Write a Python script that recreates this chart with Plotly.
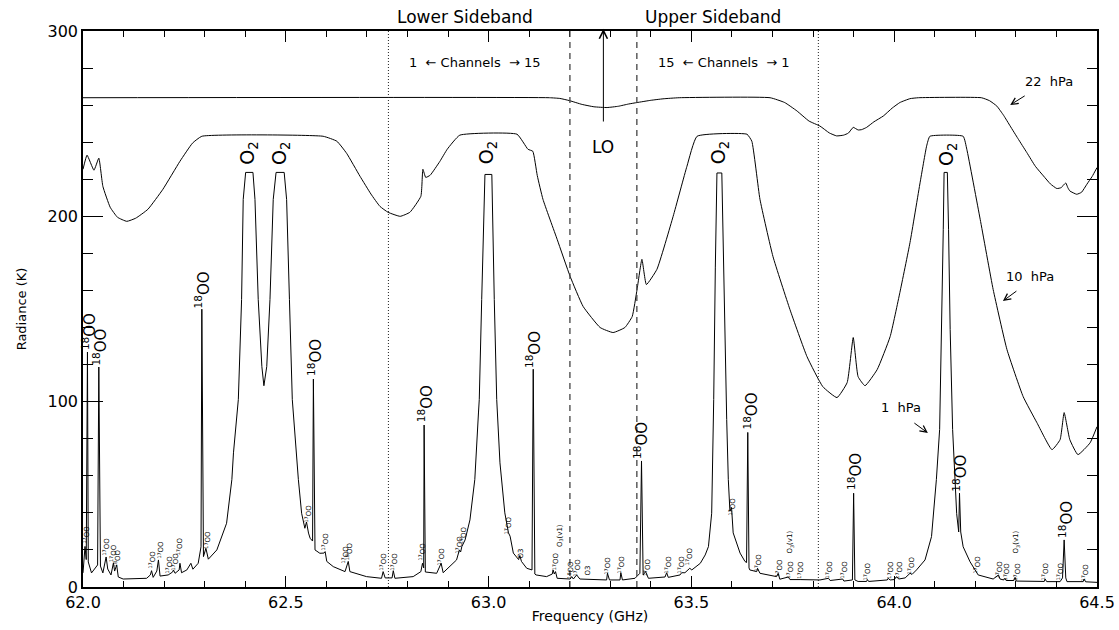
import plotly.graph_objects as go

# ---------------- data ----------------
freq_22 = [62.000, 63.150, 63.176, 63.200, 63.230, 63.260, 63.292, 63.320, 63.345, 63.366,
           63.400, 63.430, 63.470, 63.694, 63.730, 63.760, 63.790, 63.817, 63.840, 63.858,
           63.875, 63.887, 63.899, 63.911, 63.920, 63.932, 63.950, 63.973, 63.995, 64.014,
           64.039, 64.060, 64.215, 64.235, 64.253, 64.270, 64.286, 64.305, 64.327, 64.348,
           64.368, 64.385, 64.401, 64.412, 64.417, 64.423, 64.428, 64.433, 64.450, 64.462,
           64.475, 64.488, 64.500]
rad_22 = [264.0, 264.0, 263.6, 262.4, 260.4, 259.1, 258.7, 259.4, 260.6, 261.4,
          262.6, 263.4, 264.0, 264.0, 261.4, 256.9, 251.4, 248.7, 245.0, 243.4,
          243.8, 244.9, 248.0, 246.6, 246.8, 248.0, 251.0, 254.1, 258.4, 261.4,
          263.5, 264.0, 264.0, 262.4, 259.5, 254.4, 248.7, 242.0, 234.4, 227.0,
          221.8, 217.5, 215.0, 215.5, 216.8, 218.0, 215.5, 213.7, 211.9, 213.0,
          217.3, 221.5, 226.3]

freq_10 = [62.000, 62.010, 62.027, 62.039, 62.049, 62.067, 62.085, 62.108, 62.130, 62.160,
           62.197, 62.239, 62.270, 62.293, 62.592, 62.626, 62.650, 62.683, 62.710, 62.732,
           62.752, 62.782, 62.806, 62.833, 62.838, 62.845, 62.856, 62.880, 62.898, 62.929,
           63.070, 63.097, 63.109, 63.120, 63.134, 63.169, 63.201, 63.233, 63.275, 63.307,
           63.336, 63.354, 63.366, 63.378, 63.389, 63.415, 63.455, 63.489, 63.514, 63.637,
           63.649, 63.669, 63.701, 63.743, 63.785, 63.824, 63.859, 63.884, 63.899, 63.911,
           63.928, 63.958, 63.990, 64.014, 64.039, 64.064, 64.080, 64.088, 64.170, 64.179,
           64.212, 64.244, 64.278, 64.318, 64.352, 64.389, 64.409, 64.419, 64.433, 64.453,
           64.483, 64.500]
rad_10 = [225.4, 233.0, 224.9, 231.4, 216.2, 204.9, 199.5, 197.3, 199.0, 203.8,
          214.6, 229.7, 239.5, 243.2, 243.2, 240.5, 234.0, 221.6, 212.0, 205.4,
          202.2, 200.0, 202.2, 210.8, 225.4, 221.0, 222.2, 229.7, 236.2, 243.8,
          244.3, 236.2, 235.1, 222.0, 209.2, 187.6, 167.6, 151.4, 140.0, 137.3,
          140.0, 145.9, 160.5, 176.8, 163.2, 171.4, 200.0, 227.0, 243.2, 244.3,
          240.5, 209.2, 178.4, 149.7, 124.3, 108.1, 102.2, 110.3, 134.6, 113.5,
          108.6, 117.3, 135.1, 158.9, 185.9, 218.4, 238.0, 243.2, 243.2, 236.2,
          198.4, 160.5, 128.1, 102.7, 88.6, 74.1, 79.5, 94.1, 79.5, 71.4,
          77.8, 86.5]

freq_1 = [62.000, 62.005, 62.008, 62.011, 62.013, 62.021, 62.036, 62.039, 62.043, 62.049,
          62.057, 62.061, 62.069, 62.075, 62.078, 62.083, 62.087, 62.099, 62.157, 62.166,
          62.169, 62.173, 62.182, 62.186, 62.190, 62.210, 62.221, 62.223, 62.227, 62.237,
          62.239, 62.243, 62.256, 62.266, 62.271, 62.284, 62.291, 62.293, 62.297, 62.303,
          62.309, 62.330, 62.354, 62.367, 62.371, 62.383, 62.391, 62.395, 62.401, 62.419,
          62.424, 62.432, 62.441, 62.446, 62.453, 62.461, 62.469, 62.476, 62.496, 62.502,
          62.509, 62.516, 62.531, 62.539, 62.547, 62.551, 62.556, 62.560, 62.566, 62.568,
          62.572, 62.584, 62.594, 62.597, 62.601, 62.617, 62.646, 62.650, 62.654, 62.658,
          62.699, 62.736, 62.740, 62.745, 62.762, 62.765, 62.769, 62.814, 62.833, 62.837,
          62.840, 62.841, 62.844, 62.872, 62.883, 62.888, 62.921, 62.928, 62.931, 62.934,
          62.942, 62.954, 62.966, 62.975, 62.977, 62.983, 62.987, 62.991, 63.008, 63.010,
          63.014, 63.020, 63.028, 63.040, 63.049, 63.053, 63.061, 63.074, 63.077, 63.081,
          63.094, 63.107, 63.110, 63.114, 63.117, 63.143, 63.157, 63.159, 63.162, 63.165,
          63.169, 63.201, 63.205, 63.209, 63.217, 63.225, 63.291, 63.293, 63.298, 63.324,
          63.326, 63.330, 63.361, 63.373, 63.377, 63.381, 63.387, 63.394, 63.435, 63.439,
          63.443, 63.472, 63.476, 63.484, 63.496, 63.501, 63.522, 63.534, 63.542, 63.550,
          63.554, 63.555, 63.559, 63.563, 63.575, 63.579, 63.585, 63.587, 63.591, 63.594,
          63.595, 63.599, 63.603, 63.620, 63.632, 63.636, 63.639, 63.642, 63.644, 63.661,
          63.663, 63.669, 63.710, 63.714, 63.718, 63.739, 63.743, 63.768, 63.817, 63.838,
          63.842, 63.873, 63.876, 63.897, 63.900, 63.903, 63.911, 63.932, 63.934, 63.937,
          63.983, 63.985, 63.990, 64.000, 64.006, 64.011, 64.027, 64.039, 64.044, 64.055,
          64.076, 64.092, 64.104, 64.112, 64.117, 64.121, 64.123, 64.131, 64.134, 64.138,
          64.144, 64.149, 64.154, 64.159, 64.161, 64.164, 64.170, 64.187, 64.199, 64.203,
          64.207, 64.244, 64.257, 64.261, 64.270, 64.273, 64.276, 64.295, 64.298, 64.301,
          64.370, 64.372, 64.376, 64.409, 64.415, 64.419, 64.423, 64.426, 64.466, 64.468,
          64.472, 64.500]
rad_1 = [7.6, 21.9, 14.8, 126.8, 13.5, 7.6, 11.9, 118.7, 11.3, 7.6,
         16.2, 9.7, 6.5, 13.0, 8.6, 11.9, 5.4, 4.3, 4.7, 6.5,
         8.8, 5.2, 8.6, 14.6, 5.9, 6.5, 8.1, 9.2, 7.4, 9.2,
         12.8, 7.7, 9.2, 12.8, 9.6, 12.8, 21.7, 149.9, 16.4, 20.9,
         15.0, 20.0, 34.4, 58.0, 72.4, 101.2, 155.1, 209.1, 223.7, 223.7,
         209.1, 155.1, 118.9, 108.6, 118.9, 155.1, 209.1, 223.7, 223.7, 209.1,
         155.1, 101.2, 58.0, 39.8, 31.7, 35.1, 29.1, 26.3, 24.8, 112.2,
         20.0, 18.2, 18.3, 19.1, 13.8, 11.0, 8.3, 11.9, 13.8, 8.3,
         5.6, 4.7, 8.3, 4.9, 4.9, 8.8, 4.7, 5.6, 8.3, 12.8,
         10.3, 87.4, 8.1, 7.4, 12.8, 7.7, 14.6, 20.0, 18.9, 21.8,
         25.4, 36.2, 58.0, 93.9, 101.2, 155.1, 191.3, 222.6, 222.6, 191.3,
         155.1, 101.2, 67.0, 40.0, 29.2, 27.4, 18.3, 14.8, 17.0, 13.8,
         10.1, 9.2, 117.5, 7.0, 6.5, 5.6, 7.0, 9.2, 7.0, 8.3,
         4.7, 4.3, 5.6, 4.3, 6.5, 4.3, 3.8, 7.4, 3.8, 3.8,
         7.7, 3.8, 4.7, 7.4, 68.0, 6.5, 8.3, 4.7, 5.4, 7.7,
         5.2, 6.5, 7.7, 7.7, 10.1, 9.2, 12.8, 17.3, 21.8, 39.8,
         75.7, 101.2, 172.6, 223.4, 223.4, 172.6, 101.2, 90.4, 58.0, 44.5,
         40.9, 42.9, 29.2, 18.3, 13.8, 13.2, 83.4, 10.3, 9.2, 8.3,
         10.1, 7.4, 5.6, 7.4, 4.2, 5.4, 4.0, 4.0, 3.8, 4.7,
         3.5, 4.3, 3.2, 3.8, 50.6, 3.8, 3.0, 3.0, 4.0, 3.0,
         3.8, 4.7, 3.8, 4.0, 5.6, 4.3, 4.9, 7.4, 6.8, 9.2,
         14.6, 27.2, 58.0, 85.0, 139.0, 193.0, 223.7, 223.7, 193.0, 139.0,
         85.0, 58.0, 39.6, 29.7, 50.6, 29.7, 21.7, 13.6, 9.2, 7.7,
         6.5, 4.3, 6.5, 4.3, 3.8, 4.7, 3.5, 3.5, 5.2, 3.2,
         3.0, 4.3, 2.9, 2.9, 4.9, 25.4, 4.9, 2.9, 2.9, 4.3,
         2.8, 2.5]

lo_freq = 63.283
if_edges = [0.0825, 0.53]          # dashed (inner) and dotted (outer) offsets from LO

# large rotated labels
big_iso_f = [62.015, 62.041, 62.293, 62.572, 62.844, 63.111, 63.377, 63.647, 63.902, 64.163, 64.422]
big_iso_r = [137.6, 129.5, 160.5, 123.6, 98.8, 128.2, 79.1, 94.7, 62.3, 61.3, 36.4]
o2_f = [62.409, 62.488, 62.999, 63.571, 64.133]
o2_r = [234.2, 234.2, 234.2, 234.2, 233.2]

# small rotated labels (freq, radiance, kind)
small_f = [62.007, 62.057, 62.074, 62.084, 62.170, 62.190, 62.212, 62.227, 62.239, 62.306,
           62.555, 62.597, 62.646, 62.658, 62.740, 62.767, 62.836, 62.883, 62.927, 62.939,
           63.050, 63.080, 63.166, 63.176, 63.201, 63.218, 63.245, 63.292, 63.326, 63.390,
           63.442, 63.474, 63.496, 63.600, 63.664, 63.714, 63.743, 63.743, 63.768, 63.839,
           63.876, 63.935, 63.990, 64.012, 64.041, 64.204, 64.258, 64.278, 64.300, 64.303,
           64.374, 64.411, 64.470]
small_r = [28.2, 21.9, 18.3, 15.6, 14.8, 20.2, 12.1, 13.8, 21.9, 25.6,
           39.7, 24.6, 17.5, 19.2, 13.8, 13.8, 19.2, 16.5, 22.9, 27.8,
           33.2, 18.1, 13.8, 28.0, 9.4, 10.5, 8.9, 11.6, 12.1, 10.5,
           12.1, 12.1, 16.5, 43.4, 13.2, 10.5, 24.5, 9.4, 9.4, 9.4,
           9.4, 8.4, 9.4, 9.4, 11.6, 12.1, 9.4, 8.4, 24.5, 8.4,
           8.4, 8.4, 7.8]
small_kind = ["17", "17", "17", "18", "17", "17", "17", "17", "17", "17",
              "17", "17", "17", "18", "17", "17", "17", "17", "17", "17",
              "17", "O3", "17", "O3v", "18", "17", "O3", "17", "17", "17",
              "17", "17", "17", "17", "17", "17", "O3v", "17", "17", "17",
              "17", "17", "17", "17", "17", "17", "17", "17", "O3v", "17",
              "17", "17", "17"]

# curve labels: text, position, arrow head
curve_lbl = ["22  hPa", "10  hPa", "1  hPa"]
curve_lbl_f = [64.382, 64.335, 64.017]
curve_lbl_r = [272.5, 167.3, 96.6]
curve_arrow_f = [64.286, 64.268, 64.083]
curve_arrow_r = [260.1, 154.3, 83.1]
curve_arrow_dx = [16, 15, -15]
curve_arrow_dy = [-10, -11, -11]

# header texts (domain-y positions above the frame)
sideband_lbl = ["Lower Sideband", "Upper Sideband"]
sideband_f = [62.942, 63.553]
sideband_y = 1.025
lo_arrow_dom = [0.8345, 1.004]    # tail, head

FONT = "DejaVu Sans"

fig = go.Figure()
for fx, ry, shp in [(freq_22, rad_22, "spline"), (freq_10, rad_10, "spline"), (freq_1, rad_1, "linear")]:
    fig.add_trace(go.Scatter(x=fx, y=ry, mode="lines",
                             line=dict(color="black", width=1, shape=shp,
                                       smoothing=0.4 if shp == "spline" else None),
                             hoverinfo="skip", showlegend=False))

# sideband / IF boundaries
for off in if_edges:
    for sgn in (-1, 1):
        fig.add_shape(type="line", xref="x", yref="paper", x0=lo_freq + sgn * off, x1=lo_freq + sgn * off,
                      y0=0, y1=1,
                      line=dict(color="#444" if off < 0.2 else "#222", width=1.3 if off < 0.2 else 1,
                                dash="6px,5px" if off < 0.2 else "1px,2px"))

ann = []
for f, r in zip(big_iso_f, big_iso_r):
    ann.append(dict(x=f, y=r, text="<sup>18</sup>OO", textangle=-90, showarrow=False,
                    font=dict(family=FONT, size=15, color="black")))
for f, r in zip(o2_f, o2_r):
    ann.append(dict(x=f, y=r, text="O<sub>2</sub>", textangle=-90, showarrow=False,
                    font=dict(family=FONT, size=19, color="black")))
kind_txt = {"17": "<sup>17</sup>OO", "18": "<sup>18</sup>OO", "O3": "O3", "O3v": "O<sub>3</sub>(v1)"}
for f, r, k in zip(small_f, small_r, small_kind):
    ann.append(dict(x=f, y=r, text=kind_txt[k], textangle=-90, showarrow=False,
                    font=dict(family=FONT, size=7, color="black")))

for t, f, r, af, ar, dx, dy in zip(curve_lbl, curve_lbl_f, curve_lbl_r, curve_arrow_f, curve_arrow_r,
                                   curve_arrow_dx, curve_arrow_dy):
    ann.append(dict(x=f, y=r, text=t, showarrow=False, font=dict(family=FONT, size=13, color="black")))
    ann.append(dict(x=af, y=ar, text="", showarrow=True, ax=dx, ay=dy, arrowhead=5, arrowsize=1.3,
                    arrowwidth=1, arrowcolor="black"))

# LO marker
ann.append(dict(x=lo_freq, y=lo_arrow_dom[1], xref="x", yref="y domain", text="", showarrow=True,
                axref="x", ayref="y domain", ax=lo_freq, ay=lo_arrow_dom[0],
                arrowhead=5, arrowsize=1.6, arrowwidth=1, arrowcolor="black"))
ann.append(dict(x=lo_freq, y=237.6, text="LO", showarrow=False, font=dict(family=FONT, size=17, color="black")))
for t, f in zip(sideband_lbl, sideband_f):
    ann.append(dict(x=f, y=sideband_y, xref="x", yref="paper", xanchor="center", yanchor="middle",
                    text=t, showarrow=False, font=dict(family=FONT, size=17, color="black")))
ann.append(dict(x=62.966, y=282.8, text="1  \u2190 Channels  \u2192 15", showarrow=False,
                font=dict(family=FONT, size=13, color="black")))
ann.append(dict(x=63.580, y=282.8, text="15  \u2190 Channels  \u2192 1", showarrow=False,
                font=dict(family=FONT, size=13, color="black")))

fig.update_layout(
    width=1119, height=630,
    margin=dict(l=83, r=22, t=31, b=43),
    paper_bgcolor="white", plot_bgcolor="white",
    annotations=ann,
    xaxis=dict(range=[62, 64.5], tick0=62, dtick=0.5, tickformat=".1f", ticks="inside", ticklen=11,
               tickwidth=1.2, tickcolor="black", automargin=False,
               minor=dict(dtick=0.1, ticks="inside", ticklen=6, tickwidth=1, tickcolor="black"),
               showline=True, linecolor="black", linewidth=1.5, mirror="allticks",
               showgrid=False, zeroline=False,
               tickfont=dict(family=FONT, size=16, color="black"),
               title=dict(text="Frequency (GHz)", font=dict(family=FONT, size=14, color="black"), standoff=0)),
    yaxis=dict(range=[0, 300], tick0=0, dtick=100, ticks="inside", ticklen=20, tickwidth=1.2, tickcolor="black",
               automargin=False,
               minor=dict(dtick=20, ticks="inside", ticklen=10, tickwidth=1, tickcolor="black"),
               showline=True, linecolor="black", linewidth=1.5, mirror="allticks",
               showgrid=False, zeroline=False,
               tickfont=dict(family=FONT, size=16, color="black"),
               title=dict(text="Radiance (K)", font=dict(family=FONT, size=13, color="black"), standoff=18)),
)

fig.write_html("out.html", config={"displayModeBar": False},
               post_script="document.body.style.margin='0';")
